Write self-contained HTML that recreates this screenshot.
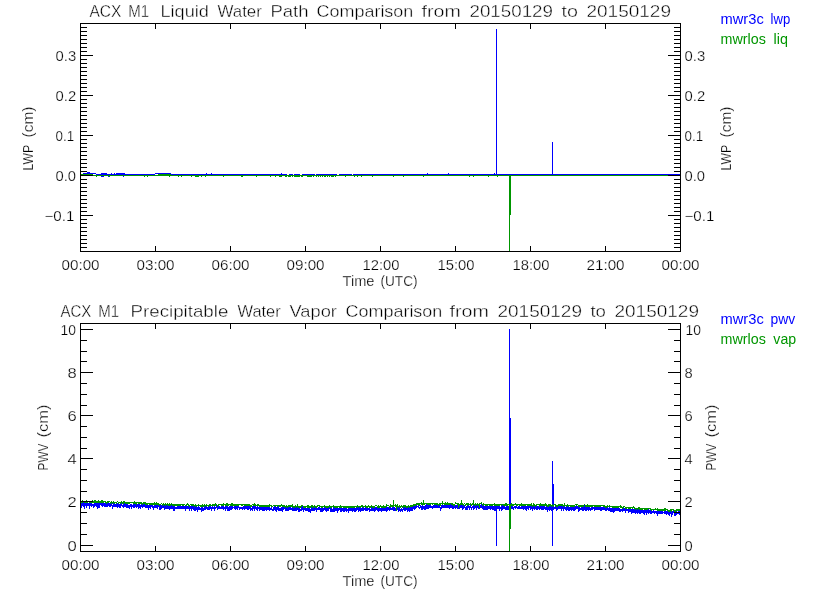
<!DOCTYPE html><html><head><meta charset="utf-8"><style>html,body{margin:0;padding:0;background:#fff;width:840px;height:600px;overflow:hidden}svg{display:block}text{font-family:"Liberation Sans",Arial,sans-serif;stroke:#fff;stroke-width:0.25px}text[fill]{stroke:none}text[font-size="17"]{stroke-width:0.4px}</style></head><body>
<svg width="840" height="600" viewBox="0 0 840 600">
<rect width="840" height="600" fill="#fff"/>
<g shape-rendering="crispEdges" fill="none" stroke-width="1">
<path d="M83.5 173V174M84.5 173V174M85.5 173V174M86.5 173V174M87.5 172V174M88.5 172V174M89.5 172V174M90.5 173V174M91.5 173V174M92.5 173V174M93.5 173V174M94.5 173V174M95.5 173V174M96.5 174V177M97.5 174V175M98.5 174V175M99.5 174V175M100.5 174V175M101.5 173V177M102.5 173V177M103.5 173V177M104.5 173V175M105.5 173V175M106.5 173V175M107.5 174V175M108.5 174V177M109.5 174V175M110.5 174V175M111.5 173V175M112.5 174V175M113.5 174V175M114.5 173V175M115.5 174V175M116.5 173V175M117.5 173V175M118.5 173V175M119.5 173V175M120.5 173V175M121.5 173V175M122.5 173V175M123.5 173V177M124.5 173V175M125.5 174V175M126.5 174V175M127.5 174V175M128.5 174V175M129.5 174V175M130.5 174V175M131.5 174V175M132.5 174V175M133.5 174V175M134.5 174V175M135.5 174V175M136.5 174V175M137.5 174V175M138.5 174V175M139.5 174V175M140.5 174V175M141.5 174V175M142.5 174V175M143.5 174V175M144.5 174V175M145.5 174V175M146.5 174V175M147.5 174V175M148.5 174V175M149.5 174V175M150.5 174V175M151.5 174V175M152.5 174V175M153.5 174V175M154.5 174V175M155.5 173V174M156.5 173V174M157.5 173V174M158.5 173V174M159.5 173V174M160.5 173V174M161.5 173V174M162.5 173V174M163.5 173V174M164.5 173V174M165.5 173V174M166.5 173V174M167.5 173V174M168.5 173V174M169.5 173V174M170.5 173V174M171.5 174V175M172.5 174V175M173.5 174V175M174.5 174V175M175.5 174V175M176.5 174V175M177.5 174V175M178.5 174V175M179.5 174V175M180.5 174V175M181.5 174V175M182.5 174V175M183.5 174V175M184.5 174V175M185.5 174V175M186.5 174V175M187.5 174V175M188.5 174V175M189.5 174V175M190.5 174V175M191.5 174V175M192.5 174V175M193.5 174V175M194.5 174V175M195.5 174V175M196.5 174V175M197.5 174V175M198.5 174V175M199.5 174V175M200.5 174V175M201.5 174V175M202.5 174V175M203.5 174V175M204.5 174V175M205.5 174V175M206.5 173V175M207.5 174V175M208.5 174V175M209.5 174V175M210.5 174V175M211.5 173V175M212.5 174V175M213.5 174V175M214.5 174V175M215.5 174V175M216.5 174V175M217.5 174V175M218.5 174V175M219.5 174V175M220.5 174V175M221.5 174V175M222.5 174V175M223.5 174V175M224.5 174V175M225.5 174V175M226.5 174V175M227.5 174V175M228.5 174V175M229.5 174V175M230.5 174V175M231.5 174V175M232.5 174V175M233.5 174V175M234.5 174V175M235.5 174V175M236.5 174V175M237.5 174V175M238.5 174V175M239.5 174V175M240.5 174V175M241.5 174V175M242.5 174V175M243.5 174V175M244.5 174V175M245.5 174V175M246.5 174V175M247.5 174V175M248.5 174V175M249.5 174V175M250.5 174V175M251.5 174V175M252.5 174V175M253.5 174V175M254.5 174V175M255.5 174V175M256.5 174V175M257.5 174V175M258.5 174V175M259.5 174V175M260.5 174V175M261.5 174V175M262.5 174V175M263.5 174V175M264.5 174V175M265.5 174V175M266.5 174V175M267.5 174V175M268.5 174V175M269.5 174V175M270.5 174V175M271.5 174V175M272.5 174V175M273.5 174V175M274.5 174V175M275.5 174V175M276.5 174V175M277.5 174V175M278.5 174V175M279.5 174V175M280.5 174V175M281.5 173V175M282.5 174V175M283.5 174V175M284.5 174V175M285.5 174V175M286.5 174V175M287.5 175V176M288.5 175V176M289.5 174V175M290.5 174V175M291.5 174V175M292.5 174V175M293.5 175V176M294.5 174V175M295.5 174V175M296.5 174V175M297.5 174V175M298.5 174V175M299.5 174V175M300.5 175V176M301.5 175V176M302.5 174V175M303.5 174V175M304.5 174V175M305.5 174V175M306.5 174V175M307.5 174V175M308.5 174V175M309.5 174V175M310.5 174V175M311.5 174V175M312.5 174V175M313.5 174V175M314.5 174V175M315.5 175V176M316.5 174V175M317.5 174V175M318.5 174V175M319.5 174V175M320.5 174V175M321.5 174V175M322.5 174V175M323.5 174V175M324.5 174V175M325.5 174V175M326.5 174V175M327.5 174V175M328.5 174V175M329.5 174V175M330.5 174V175M331.5 174V175M332.5 174V175M333.5 174V175M334.5 174V175M335.5 174V175M336.5 174V175M337.5 175V176M338.5 175V176M339.5 174V175M340.5 174V175M341.5 174V175M342.5 174V175M343.5 174V175M344.5 174V175M345.5 174V175M346.5 174V175M347.5 174V175M348.5 174V175M349.5 174V175M350.5 174V175M351.5 174V175M352.5 175V176M353.5 174V175M354.5 174V175M355.5 174V175M356.5 174V175M357.5 174V175M358.5 174V175M359.5 174V175M360.5 174V175M361.5 174V175M362.5 174V175M363.5 174V175M364.5 174V175M365.5 174V175M366.5 174V175M367.5 174V175M368.5 174V175M369.5 174V175M370.5 174V175M371.5 174V175M372.5 174V175M373.5 174V175M374.5 174V175M375.5 174V175M376.5 174V175M377.5 174V175M378.5 174V175M379.5 174V175M380.5 174V175M381.5 174V175M382.5 174V175M383.5 174V175M384.5 174V175M385.5 174V175M386.5 174V175M387.5 174V175M388.5 174V175M389.5 174V175M390.5 174V175M391.5 174V175M392.5 174V175M393.5 174V175M394.5 174V175M395.5 174V175M396.5 174V175M397.5 174V175M398.5 174V175M399.5 174V175M400.5 174V175M401.5 174V175M402.5 174V175M403.5 174V175M404.5 174V175M405.5 174V175M406.5 174V175M407.5 174V175M408.5 174V175M409.5 174V175M410.5 174V175M411.5 174V175M412.5 174V175M413.5 174V175M414.5 174V175M415.5 174V175M416.5 174V175M417.5 174V175M418.5 174V175M419.5 174V175M420.5 174V175M421.5 174V175M422.5 174V175M423.5 174V175M424.5 174V175M425.5 174V175M426.5 174V175M427.5 173V175M428.5 174V175M429.5 174V175M430.5 174V175M431.5 174V175M432.5 174V175M433.5 174V175M434.5 174V175M435.5 174V175M436.5 174V175M437.5 174V175M438.5 174V175M439.5 174V175M440.5 174V175M441.5 174V175M442.5 174V175M443.5 174V175M444.5 174V175M445.5 174V175M446.5 174V175M447.5 174V175M448.5 173V175M449.5 174V175M450.5 174V175M451.5 174V175M452.5 174V175M453.5 174V175M454.5 174V175M455.5 174V175M456.5 174V175M457.5 174V175M458.5 174V175M459.5 174V175M460.5 174V175M461.5 174V175M462.5 174V175M463.5 174V175M464.5 174V175M465.5 174V175M466.5 174V175M467.5 174V175M468.5 174V175M469.5 174V175M470.5 174V175M471.5 174V175M472.5 174V175M473.5 174V175M474.5 174V175M475.5 174V175M476.5 174V175M477.5 174V175M478.5 174V175M479.5 174V175M480.5 174V175M481.5 174V175M482.5 174V175M483.5 174V175M484.5 174V175M485.5 174V175M486.5 174V175M487.5 174V175M488.5 174V175M489.5 174V175M490.5 174V175M491.5 174V175M492.5 174V175M493.5 174V175M494.5 173V175M495.5 174V175M496.5 174V175M497.5 174V175M498.5 174V175M499.5 174V175M500.5 174V175M501.5 174V175M502.5 174V175M503.5 174V175M504.5 174V175M505.5 174V175M506.5 174V175M507.5 174V175M508.5 174V175M509.5 174V175M510.5 174V175M511.5 174V175M512.5 174V175M513.5 174V175M514.5 174V175M515.5 174V175M516.5 174V175M517.5 174V175M518.5 174V175M519.5 174V175M520.5 174V175M521.5 174V175M522.5 174V175M523.5 174V175M524.5 174V175M525.5 174V175M526.5 174V175M527.5 174V175M528.5 174V175M529.5 174V175M530.5 174V175M531.5 174V175M532.5 174V175M533.5 174V175M534.5 174V175M535.5 174V175M536.5 174V175M537.5 174V175M538.5 174V175M539.5 174V175M540.5 174V175M541.5 174V175M542.5 174V175M543.5 174V175M544.5 174V175M545.5 174V175M546.5 174V175M547.5 174V175M548.5 174V175M549.5 174V175M550.5 174V175M551.5 174V175M552.5 174V175M553.5 174V175M554.5 174V175M555.5 174V175M556.5 174V175M557.5 174V175M558.5 174V175M559.5 174V175M560.5 174V175M561.5 174V175M562.5 174V175M563.5 174V175M564.5 174V175M565.5 174V175M566.5 174V175M567.5 174V175M568.5 174V175M569.5 174V175M570.5 174V175M571.5 174V175M572.5 174V175M573.5 174V175M574.5 174V175M575.5 174V175M576.5 174V175M577.5 174V175M578.5 174V175M579.5 174V175M580.5 174V175M581.5 174V175M582.5 174V175M583.5 174V175M584.5 174V175M585.5 174V175M586.5 174V175M587.5 174V175M588.5 174V175M589.5 174V175M590.5 174V175M591.5 174V175M592.5 174V175M593.5 174V175M594.5 174V175M595.5 174V175M596.5 174V175M597.5 174V175M598.5 174V175M599.5 174V175M600.5 174V175M601.5 174V175M602.5 174V175M603.5 174V175M604.5 174V175M605.5 174V175M606.5 174V175M607.5 174V175M608.5 174V175M609.5 174V175M610.5 174V175M611.5 174V175M612.5 174V175M613.5 174V175M614.5 174V175M615.5 174V175M616.5 174V175M617.5 174V175M618.5 174V175M619.5 174V175M620.5 174V175M621.5 174V175M622.5 174V175M623.5 174V175M624.5 174V175M625.5 174V175M626.5 174V175M627.5 174V175M628.5 174V175M629.5 174V175M630.5 174V175M631.5 174V175M632.5 174V175M633.5 174V175M634.5 174V175M635.5 174V175M636.5 174V175M637.5 174V175M638.5 174V175M639.5 174V175M640.5 174V175M641.5 174V175M642.5 174V175M643.5 174V175M644.5 174V175M645.5 174V175M646.5 174V175M647.5 174V175M648.5 174V175M649.5 174V175M650.5 174V175M651.5 174V175M652.5 174V175M653.5 174V175M654.5 174V175M655.5 174V175M656.5 174V175M657.5 174V175M658.5 174V175M659.5 174V175M660.5 174V175M661.5 174V175M662.5 174V175M663.5 174V175M664.5 174V175M665.5 174V175M666.5 174V175M667.5 174V175M668.5 174V175M669.5 174V175M670.5 174V175M671.5 174V175M672.5 174V175M673.5 174V175M674.5 174V175M675.5 174V175M676.5 174V175M677.5 174V175M678.5 174V175M679.5 174V175M496.5 29V175M552.5 142V175" stroke="#0000ff"/>
<path d="M81.5 174V175M82.5 174V175M83.5 174V175M84.5 174V175M85.5 174V175M86.5 174V175M87.5 174V175M88.5 174V175M89.5 174V175M90.5 174V175M91.5 174V175M92.5 174V175M93.5 175V176M94.5 175V176M95.5 175V176M96.5 175V177M97.5 175V176M98.5 175V176M99.5 175V176M100.5 175V176M101.5 175V176M102.5 175V176M103.5 175V176M104.5 175V176M105.5 175V176M106.5 175V176M107.5 175V176M108.5 175V176M109.5 175V177M110.5 175V176M111.5 175V176M112.5 175V176M113.5 175V176M114.5 175V176M115.5 175V176M116.5 175V176M117.5 175V176M118.5 175V176M119.5 175V176M120.5 175V176M121.5 175V176M122.5 175V176M123.5 175V176M124.5 175V176M125.5 175V176M126.5 175V176M127.5 175V176M128.5 175V176M129.5 175V176M130.5 175V176M131.5 175V176M132.5 175V176M133.5 175V176M134.5 175V176M135.5 175V176M136.5 175V176M137.5 175V176M138.5 175V176M139.5 175V176M140.5 175V176M141.5 175V176M142.5 175V176M143.5 175V176M144.5 175V177M145.5 175V176M146.5 175V176M147.5 175V177M148.5 175V176M149.5 175V176M150.5 175V176M151.5 175V176M152.5 175V176M153.5 175V176M154.5 175V176M155.5 175V176M156.5 175V176M157.5 175V176M158.5 174V176M159.5 174V176M160.5 174V176M161.5 174V176M162.5 174V176M163.5 174V176M164.5 174V176M165.5 174V176M166.5 174V176M167.5 174V176M168.5 174V176M169.5 174V177M170.5 174V176M171.5 175V176M172.5 175V176M173.5 175V176M174.5 175V176M175.5 175V176M176.5 175V176M177.5 175V176M178.5 175V177M179.5 175V176M180.5 175V176M181.5 175V177M182.5 175V176M183.5 175V176M184.5 175V176M185.5 175V176M186.5 175V176M187.5 175V176M188.5 175V176M189.5 175V176M190.5 175V176M191.5 175V177M192.5 175V176M193.5 175V176M194.5 175V176M195.5 175V177M196.5 175V177M197.5 175V177M198.5 175V177M199.5 175V176M200.5 175V176M201.5 175V177M202.5 175V176M203.5 175V176M204.5 175V176M205.5 175V177M206.5 175V176M207.5 175V176M208.5 175V176M209.5 175V176M210.5 175V176M211.5 175V176M212.5 175V176M213.5 175V176M214.5 175V176M215.5 175V176M216.5 175V176M217.5 175V176M218.5 175V176M219.5 175V176M220.5 175V176M221.5 175V176M222.5 175V176M223.5 175V177M224.5 175V176M225.5 175V176M226.5 175V176M227.5 175V176M228.5 175V176M229.5 175V176M230.5 175V176M231.5 175V176M232.5 175V176M233.5 175V176M234.5 175V176M235.5 175V176M236.5 175V176M237.5 175V176M238.5 175V176M239.5 175V176M240.5 175V176M241.5 175V177M242.5 175V177M243.5 175V176M244.5 175V176M245.5 175V176M246.5 175V176M247.5 175V176M248.5 175V176M249.5 175V176M250.5 175V176M251.5 175V176M252.5 175V176M253.5 175V176M254.5 175V176M255.5 175V176M256.5 175V177M257.5 175V176M258.5 175V176M259.5 175V176M260.5 175V176M261.5 175V176M262.5 175V176M263.5 175V176M264.5 175V176M265.5 175V176M266.5 175V176M267.5 175V176M268.5 175V176M269.5 175V176M270.5 175V177M271.5 175V176M272.5 175V176M273.5 175V176M274.5 175V176M275.5 175V177M276.5 175V176M277.5 175V176M278.5 175V176M279.5 175V177M280.5 175V177M281.5 175V177M282.5 175V176M283.5 175V176M284.5 175V176M285.5 175V177M286.5 175V177M287.5 175V176M288.5 175V177M289.5 175V177M290.5 175V177M291.5 175V176M292.5 175V177M293.5 175V176M294.5 175V177M295.5 175V177M296.5 175V177M297.5 175V177M298.5 175V177M299.5 175V177M300.5 175V176M301.5 175V177M302.5 175V177M303.5 175V176M304.5 175V176M305.5 175V176M306.5 175V176M307.5 175V177M308.5 175V177M309.5 175V177M310.5 175V177M311.5 175V177M312.5 175V176M313.5 175V177M314.5 175V176M315.5 175V176M316.5 175V177M317.5 175V176M318.5 175V177M319.5 175V176M320.5 175V177M321.5 175V176M322.5 175V177M323.5 175V176M324.5 175V177M325.5 175V177M326.5 175V176M327.5 175V177M328.5 175V176M329.5 175V177M330.5 175V176M331.5 175V177M332.5 175V177M333.5 175V177M334.5 175V176M335.5 175V177M336.5 175V176M337.5 175V176M338.5 175V176M339.5 175V176M340.5 175V176M341.5 175V176M342.5 175V176M343.5 175V176M344.5 175V176M345.5 175V177M346.5 175V176M347.5 175V176M348.5 175V176M349.5 175V176M350.5 175V176M351.5 175V176M352.5 175V176M353.5 175V176M354.5 175V177M355.5 175V176M356.5 175V176M357.5 175V177M358.5 175V176M359.5 175V176M360.5 175V176M361.5 175V177M362.5 175V176M363.5 175V176M364.5 175V176M365.5 175V176M366.5 175V176M367.5 175V176M368.5 175V176M369.5 175V176M370.5 175V176M371.5 175V176M372.5 175V177M373.5 175V176M374.5 175V176M375.5 175V176M376.5 175V176M377.5 175V176M378.5 175V176M379.5 175V176M380.5 175V176M381.5 175V176M382.5 175V176M383.5 175V176M384.5 175V176M385.5 175V176M386.5 175V176M387.5 175V176M388.5 175V176M389.5 175V176M390.5 175V176M391.5 175V176M392.5 175V176M393.5 175V177M394.5 175V176M395.5 175V176M396.5 175V176M397.5 175V176M398.5 175V176M399.5 175V176M400.5 175V176M401.5 175V176M402.5 175V176M403.5 175V177M404.5 175V176M405.5 175V176M406.5 175V176M407.5 175V176M408.5 175V176M409.5 175V176M410.5 175V176M411.5 175V176M412.5 175V176M413.5 175V176M414.5 175V176M415.5 175V176M416.5 175V176M417.5 175V176M418.5 175V176M419.5 175V176M420.5 175V176M421.5 175V176M422.5 175V176M423.5 175V177M424.5 175V176M425.5 175V176M426.5 175V176M427.5 175V176M428.5 175V176M429.5 175V176M430.5 175V176M431.5 175V176M432.5 175V176M433.5 175V176M434.5 175V176M435.5 175V176M436.5 175V176M437.5 175V176M438.5 175V176M439.5 175V176M440.5 175V176M441.5 175V176M442.5 175V176M443.5 175V176M444.5 175V176M445.5 175V176M446.5 175V176M447.5 175V176M448.5 175V176M449.5 175V176M450.5 175V176M451.5 175V176M452.5 175V176M453.5 175V176M454.5 175V176M455.5 175V176M456.5 175V176M457.5 175V176M458.5 175V176M459.5 175V176M460.5 175V176M461.5 175V176M462.5 175V176M463.5 175V176M464.5 175V176M465.5 175V176M466.5 175V176M467.5 175V176M468.5 175V176M469.5 175V177M470.5 175V176M471.5 175V176M472.5 175V176M473.5 175V177M474.5 175V176M475.5 175V176M476.5 175V176M477.5 175V176M478.5 175V176M479.5 175V176M480.5 175V176M481.5 175V176M482.5 175V176M483.5 175V176M484.5 175V176M485.5 175V176M486.5 175V176M487.5 175V176M488.5 175V177M489.5 175V176M490.5 175V176M491.5 175V176M492.5 175V176M493.5 175V176M494.5 175V176M495.5 175V176M496.5 175V176M497.5 175V177M498.5 175V176M499.5 175V176M500.5 175V176M501.5 175V176M502.5 175V176M503.5 175V176M504.5 175V176M505.5 175V176M506.5 175V176M507.5 175V176M508.5 175V176M509.5 175V176M510.5 175V176M511.5 175V176M512.5 175V176M513.5 175V176M514.5 175V176M515.5 175V176M516.5 175V176M517.5 175V176M518.5 175V176M519.5 175V176M520.5 175V176M521.5 175V176M522.5 175V176M523.5 175V176M524.5 175V176M525.5 175V176M526.5 175V176M527.5 175V176M528.5 175V176M529.5 175V176M530.5 175V176M531.5 175V176M532.5 175V176M533.5 175V176M534.5 175V176M535.5 175V176M536.5 175V176M537.5 175V176M538.5 175V176M539.5 175V176M540.5 175V176M541.5 175V176M542.5 175V176M543.5 175V176M544.5 175V176M545.5 175V176M546.5 175V176M547.5 175V176M548.5 175V176M549.5 175V176M550.5 175V176M551.5 175V176M552.5 175V176M553.5 175V176M554.5 175V176M555.5 175V176M556.5 175V176M557.5 175V176M558.5 175V176M559.5 175V176M560.5 175V176M561.5 175V176M562.5 175V176M563.5 175V176M564.5 175V176M565.5 175V176M566.5 175V176M567.5 175V176M568.5 175V176M569.5 175V176M570.5 175V176M571.5 175V176M572.5 175V176M573.5 175V176M574.5 175V176M575.5 175V176M576.5 175V176M577.5 175V176M578.5 175V176M579.5 175V176M580.5 175V176M581.5 175V176M582.5 175V176M583.5 175V176M584.5 175V176M585.5 175V176M586.5 175V176M587.5 175V176M588.5 175V176M589.5 175V176M590.5 175V176M591.5 175V176M592.5 175V176M593.5 175V176M594.5 175V176M595.5 175V176M596.5 175V176M597.5 175V176M598.5 175V176M599.5 175V176M600.5 175V176M601.5 175V176M602.5 175V176M603.5 175V176M604.5 175V176M605.5 175V176M606.5 175V176M607.5 175V176M608.5 175V176M609.5 175V176M610.5 175V176M611.5 175V176M612.5 175V176M613.5 175V176M614.5 175V176M615.5 175V176M616.5 175V176M617.5 175V176M618.5 175V176M619.5 175V176M620.5 175V176M621.5 175V176M622.5 175V176M623.5 175V176M624.5 175V176M625.5 175V176M626.5 175V176M627.5 175V176M628.5 175V176M629.5 175V176M630.5 175V176M631.5 175V176M632.5 175V176M633.5 175V176M634.5 175V176M635.5 175V176M636.5 175V176M637.5 175V176M638.5 175V176M639.5 175V176M640.5 175V176M641.5 175V176M642.5 175V176M643.5 175V176M644.5 175V176M645.5 175V176M646.5 175V176M647.5 175V176M648.5 175V176M649.5 175V176M650.5 175V176M651.5 175V176M652.5 175V176M653.5 175V176M654.5 175V176M655.5 175V176M656.5 175V176M657.5 175V176M658.5 175V176M659.5 175V176M660.5 175V176M661.5 175V176M662.5 175V176M663.5 175V176M664.5 175V176M665.5 175V176M666.5 175V176M667.5 175V176M668.5 175V176M669.5 175V176M670.5 175V176M671.5 175V176M672.5 175V176M673.5 175V176M674.5 175V176M675.5 175V176M676.5 175V176M677.5 175V176M678.5 175V176M679.5 175V176M509.5 175V252M510.5 175V215" stroke="#009600"/>
</g>
<g shape-rendering="crispEdges" fill="none" stroke-width="1">
<path d="M81.5 503V508M82.5 503V506M83.5 502V507M84.5 503V509M85.5 503V506M86.5 503V508M87.5 503V506M88.5 503V506M89.5 503V509M90.5 503V506M91.5 503V507M92.5 504V506M93.5 504V508M94.5 503V507M95.5 503V506M96.5 502V507M97.5 502V509M98.5 503V508M99.5 503V508M100.5 503V505M101.5 503V506M102.5 503V507M103.5 503V506M104.5 503V507M105.5 503V507M106.5 504V507M107.5 503V507M108.5 503V506M109.5 503V507M110.5 504V507M111.5 503V506M112.5 505V509M113.5 503V507M114.5 503V507M115.5 504V507M116.5 504V507M117.5 503V508M118.5 504V507M119.5 504V508M120.5 504V508M121.5 503V506M122.5 505V507M123.5 504V508M124.5 503V507M125.5 503V507M126.5 504V508M127.5 504V508M128.5 505V508M129.5 505V509M130.5 504V507M131.5 504V509M132.5 505V507M133.5 504V508M134.5 504V508M135.5 504V507M136.5 505V508M137.5 504V507M138.5 504V509M139.5 504V508M140.5 505V509M141.5 503V507M142.5 505V508M143.5 504V507M144.5 503V507M145.5 505V508M146.5 505V508M147.5 505V508M148.5 505V510M149.5 505V508M150.5 505V509M151.5 504V507M152.5 505V508M153.5 506V510M154.5 505V508M155.5 505V508M156.5 505V508M157.5 505V509M158.5 505V507M159.5 506V510M160.5 505V510M161.5 505V509M162.5 506V508M163.5 505V508M164.5 506V510M165.5 505V509M166.5 506V509M167.5 505V509M168.5 506V509M169.5 506V510M170.5 506V509M171.5 505V509M172.5 506V509M173.5 506V511M174.5 505V511M175.5 507V509M176.5 507V509M177.5 506V509M178.5 506V509M179.5 506V509M180.5 505V509M181.5 506V509M182.5 506V509M183.5 505V509M184.5 506V509M185.5 506V511M186.5 506V509M187.5 506V509M188.5 506V509M189.5 507V511M190.5 506V509M191.5 506V511M192.5 506V509M193.5 506V510M194.5 507V511M195.5 506V511M196.5 506V510M197.5 507V512M198.5 506V510M199.5 507V510M200.5 508V510M201.5 507V512M202.5 507V511M203.5 508V511M204.5 506V510M205.5 507V510M206.5 506V509M207.5 507V510M208.5 507V510M209.5 506V510M210.5 506V509M211.5 507V511M212.5 505V509M213.5 507V509M214.5 506V511M215.5 507V509M216.5 505V508M217.5 507V510M218.5 506V509M219.5 506V509M220.5 507V509M221.5 506V509M222.5 506V509M223.5 505V510M224.5 507V509M225.5 506V511M226.5 506V509M227.5 506V511M228.5 507V511M229.5 506V511M230.5 505V510M231.5 506V510M232.5 506V509M233.5 507V508M234.5 506V509M235.5 506V510M236.5 506V509M237.5 506V510M238.5 506V508M239.5 507V510M240.5 507V509M241.5 507V509M242.5 507V510M243.5 506V509M244.5 506V510M245.5 506V509M246.5 506V509M247.5 506V510M248.5 506V510M249.5 506V509M250.5 507V511M251.5 508V510M252.5 506V511M253.5 505V509M254.5 506V511M255.5 506V509M256.5 507V510M257.5 506V511M258.5 507V509M259.5 507V511M260.5 506V510M261.5 507V510M262.5 507V511M263.5 507V511M264.5 507V511M265.5 507V510M266.5 506V511M267.5 507V510M268.5 507V510M269.5 506V511M270.5 508V510M271.5 506V510M272.5 509V511M273.5 507V511M274.5 506V510M275.5 507V511M276.5 507V512M277.5 506V510M278.5 506V511M279.5 508V511M280.5 508V511M281.5 507V511M282.5 507V512M283.5 507V510M284.5 507V509M285.5 508V511M286.5 507V511M287.5 508V511M288.5 507V511M289.5 507V510M290.5 507V510M291.5 508V510M292.5 507V511M293.5 508V511M294.5 507V511M295.5 506V511M296.5 508V511M297.5 507V510M298.5 508V512M299.5 508V512M300.5 509V511M301.5 507V511M302.5 506V510M303.5 508V512M304.5 508V510M305.5 508V511M306.5 508V511M307.5 508V511M308.5 508V512M309.5 507V512M310.5 509V513M311.5 507V511M312.5 508V511M313.5 508V511M314.5 507V511M315.5 508V510M316.5 508V512M317.5 508V510M318.5 507V510M319.5 507V510M320.5 508V512M321.5 508V512M322.5 508V512M323.5 508V511M324.5 506V510M325.5 508V511M326.5 508V512M327.5 508V511M328.5 508V511M329.5 507V509M330.5 508V512M331.5 508V512M332.5 509V512M333.5 507V512M334.5 508V512M335.5 508V511M336.5 508V511M337.5 508V513M338.5 508V511M339.5 508V510M340.5 508V512M341.5 508V512M342.5 508V511M343.5 508V512M344.5 508V512M345.5 508V511M346.5 508V512M347.5 509V511M348.5 508V513M349.5 508V511M350.5 508V511M351.5 508V511M352.5 508V512M353.5 508V511M354.5 507V512M355.5 508V512M356.5 508V511M357.5 507V510M358.5 508V512M359.5 507V511M360.5 508V512M361.5 508V511M362.5 507V511M363.5 507V511M364.5 508V510M365.5 507V511M366.5 508V511M367.5 508V511M368.5 508V510M369.5 508V512M370.5 509V511M371.5 507V511M372.5 508V511M373.5 508V511M374.5 508V512M375.5 507V511M376.5 507V510M377.5 507V511M378.5 508V512M379.5 508V511M380.5 508V511M381.5 508V512M382.5 508V511M383.5 508V511M384.5 508V511M385.5 508V511M386.5 507V512M387.5 507V511M388.5 507V510M389.5 508V511M390.5 507V510M391.5 508V510M392.5 507V510M393.5 506V511M394.5 507V511M395.5 508V511M396.5 507V511M397.5 506V510M398.5 508V512M399.5 507V511M400.5 509V512M401.5 508V511M402.5 509V512M403.5 506V510M404.5 507V511M405.5 507V511M406.5 507V510M407.5 507V512M408.5 507V511M409.5 508V512M410.5 507V511M411.5 506V511M412.5 506V511M413.5 506V509M414.5 506V510M415.5 506V509M416.5 505V508M417.5 506V507M418.5 504V508M419.5 507V509M420.5 505V508M421.5 506V510M422.5 505V510M423.5 506V509M424.5 506V510M425.5 505V510M426.5 504V509M427.5 505V509M428.5 505V509M429.5 505V508M430.5 505V508M431.5 506V508M432.5 506V509M433.5 505V508M434.5 505V508M435.5 505V508M436.5 505V508M437.5 505V508M438.5 506V508M439.5 505V508M440.5 507V511M441.5 505V509M442.5 504V508M443.5 505V508M444.5 505V508M445.5 505V508M446.5 505V508M447.5 505V508M448.5 505V508M449.5 505V509M450.5 504V508M451.5 505V508M452.5 505V509M453.5 505V509M454.5 506V508M455.5 505V509M456.5 505V508M457.5 505V509M458.5 505V509M459.5 506V509M460.5 505V508M461.5 504V508M462.5 504V510M463.5 506V509M464.5 505V508M465.5 507V510M466.5 506V510M467.5 506V510M468.5 505V508M469.5 506V510M470.5 505V508M471.5 507V510M472.5 506V508M473.5 505V510M474.5 506V509M475.5 505V508M476.5 505V510M477.5 505V508M478.5 506V509M479.5 506V509M480.5 505V508M481.5 504V508M482.5 506V509M483.5 505V510M484.5 506V510M485.5 506V510M486.5 505V510M487.5 506V510M488.5 506V509M489.5 506V509M490.5 506V510M491.5 505V509M492.5 506V510M493.5 506V510M494.5 506V511M495.5 506V511M496.5 506V510M497.5 506V509M498.5 506V509M499.5 505V511M500.5 507V509M501.5 506V511M502.5 505V510M503.5 506V509M504.5 506V509M505.5 507V510M506.5 506V510M507.5 506V510M508.5 506V510M509.5 506V509M510.5 506V509M511.5 505V509M512.5 506V509M513.5 507V510M514.5 506V508M515.5 506V509M516.5 506V508M517.5 507V509M518.5 506V509M519.5 505V509M520.5 507V509M521.5 506V509M522.5 506V509M523.5 506V510M524.5 506V509M525.5 505V510M526.5 506V511M527.5 506V509M528.5 505V510M529.5 506V508M530.5 506V510M531.5 506V509M532.5 507V511M533.5 506V509M534.5 506V510M535.5 506V509M536.5 506V510M537.5 506V510M538.5 506V509M539.5 507V510M540.5 506V509M541.5 506V510M542.5 506V510M543.5 506V510M544.5 506V509M545.5 507V510M546.5 506V510M547.5 507V512M548.5 507V510M549.5 506V511M550.5 506V510M551.5 507V511M552.5 506V509M553.5 507V510M554.5 507V509M555.5 506V509M556.5 507V511M557.5 506V510M558.5 506V509M559.5 506V509M560.5 506V509M561.5 506V511M562.5 506V509M563.5 507V511M564.5 506V509M565.5 507V510M566.5 507V511M567.5 506V510M568.5 507V511M569.5 507V511M570.5 507V510M571.5 507V511M572.5 507V510M573.5 507V511M574.5 507V511M575.5 506V510M576.5 506V509M577.5 506V509M578.5 506V512M579.5 507V511M580.5 508V510M581.5 506V510M582.5 507V511M583.5 507V511M584.5 505V510M585.5 507V511M586.5 507V511M587.5 507V510M588.5 507V511M589.5 507V510M590.5 508V511M591.5 507V510M592.5 507V510M593.5 507V509M594.5 507V511M595.5 506V510M596.5 507V510M597.5 506V510M598.5 507V510M599.5 507V510M600.5 507V511M601.5 507V511M602.5 507V510M603.5 507V510M604.5 507V510M605.5 508V511M606.5 508V511M607.5 507V510M608.5 508V511M609.5 507V511M610.5 508V512M611.5 508V512M612.5 508V512M613.5 507V513M614.5 508V512M615.5 508V511M616.5 508V511M617.5 508V511M618.5 508V511M619.5 508V512M620.5 509V512M621.5 509V511M622.5 509V512M623.5 508V511M624.5 508V511M625.5 509V513M626.5 508V511M627.5 509V511M628.5 509V513M629.5 509V512M630.5 509V512M631.5 509V514M632.5 509V513M633.5 509V513M634.5 509V513M635.5 510V514M636.5 509V513M637.5 510V514M638.5 509V513M639.5 510V514M640.5 510V514M641.5 510V513M642.5 510V513M643.5 510V514M644.5 510V515M645.5 510V513M646.5 510V515M647.5 510V513M648.5 509V514M649.5 510V513M650.5 509V514M651.5 510V514M652.5 511V513M653.5 510V513M654.5 511V514M655.5 511V513M656.5 511V514M657.5 510V516M658.5 511V514M659.5 511V514M660.5 511V514M661.5 511V514M662.5 511V514M663.5 512V513M664.5 511V514M665.5 511V514M666.5 511V515M667.5 511V514M668.5 512V515M669.5 512V516M670.5 511V514M671.5 511V517M672.5 511V515M673.5 511V513M674.5 512V516M675.5 512V516M676.5 511V515M677.5 512V514M678.5 511V514M679.5 511V515M496.5 505V546M509.5 329V507M510.5 418V507M552.5 461V546M553.5 484V507" stroke="#0000ff"/>
<path d="M81.5 501V503M82.5 500V503M83.5 501V502M84.5 501V503M85.5 501V503M86.5 500V503M87.5 501V503M88.5 501V502M89.5 501V503M90.5 501V503M91.5 501V503M92.5 500V503M93.5 501V503M94.5 500V503M95.5 500V503M96.5 501V503M97.5 501V503M98.5 500V503M99.5 501V503M100.5 501V503M101.5 500V503M102.5 500V503M103.5 501V503M104.5 501V502M105.5 501V503M106.5 502V504M107.5 501V503M108.5 501V503M109.5 501V502M110.5 502V504M111.5 501V503M112.5 502V504M113.5 501V503M114.5 502V504M115.5 502V503M116.5 502V504M117.5 501V502M118.5 502V504M119.5 502V503M120.5 502V504M121.5 501V503M122.5 502V504M123.5 501V504M124.5 501V503M125.5 502V504M126.5 502V504M127.5 502V504M128.5 502V504M129.5 502V504M130.5 502V503M131.5 502V503M132.5 502V503M133.5 502V504M134.5 501V504M135.5 502V504M136.5 502V505M137.5 502V503M138.5 502V504M139.5 502V504M140.5 502V504M141.5 502V504M142.5 503V505M143.5 502V504M144.5 502V504M145.5 502V505M146.5 503V505M147.5 503V505M148.5 503V504M149.5 503V505M150.5 503V505M151.5 503V505M152.5 503V505M153.5 503V505M154.5 502V505M155.5 503V505M156.5 502V505M157.5 503V505M158.5 503V505M159.5 504V506M160.5 504V505M161.5 503V504M162.5 504V506M163.5 503V505M164.5 504V506M165.5 503V505M166.5 504V506M167.5 503V505M168.5 504V506M169.5 503V506M170.5 504V506M171.5 503V505M172.5 504V506M173.5 504V506M174.5 504V506M175.5 504V506M176.5 504V506M177.5 504V506M178.5 504V506M179.5 504V506M180.5 504V506M181.5 504V505M182.5 504V506M183.5 504V506M184.5 504V505M185.5 505V506M186.5 504V506M187.5 503V505M188.5 504V506M189.5 505V507M190.5 504V505M191.5 504V506M192.5 504V506M193.5 504V506M194.5 505V507M195.5 504V506M196.5 505V507M197.5 505V506M198.5 504V506M199.5 505V506M200.5 505V507M201.5 505V507M202.5 504V507M203.5 505V507M204.5 504V506M205.5 505V507M206.5 504V506M207.5 505V506M208.5 505V507M209.5 504V506M210.5 504V506M211.5 505V506M212.5 504V506M213.5 504V506M214.5 504V506M215.5 503V506M216.5 504V505M217.5 505V507M218.5 504V506M219.5 504V505M220.5 504V505M221.5 504V506M222.5 504V506M223.5 503V506M224.5 504V505M225.5 504V506M226.5 503V506M227.5 503V506M228.5 504V506M229.5 504V505M230.5 504V506M231.5 503V506M232.5 503V506M233.5 504V506M234.5 504V506M235.5 504V506M236.5 504V506M237.5 504V506M238.5 504V506M239.5 504V505M240.5 504V505M241.5 504V506M242.5 504V506M243.5 504V505M244.5 504V506M245.5 504V506M246.5 504V506M247.5 504V506M248.5 504V506M249.5 504V506M250.5 505V507M251.5 505V507M252.5 504V505M253.5 504V506M254.5 503V506M255.5 504V506M256.5 505V506M257.5 504V506M258.5 504V506M259.5 505V507M260.5 505V507M261.5 505V507M262.5 505V507M263.5 505V507M264.5 505V507M265.5 505V507M266.5 505V507M267.5 505V507M268.5 505V507M269.5 504V507M270.5 505V506M271.5 505V507M272.5 506V507M273.5 505V506M274.5 505V506M275.5 505V507M276.5 505V506M277.5 505V507M278.5 505V506M279.5 505V507M280.5 505V507M281.5 504V506M282.5 505V507M283.5 505V507M284.5 505V507M285.5 506V508M286.5 505V507M287.5 506V508M288.5 505V507M289.5 505V507M290.5 505V507M291.5 505V507M292.5 504V507M293.5 506V508M294.5 506V508M295.5 505V507M296.5 506V508M297.5 504V507M298.5 506V508M299.5 506V508M300.5 506V508M301.5 505V507M302.5 505V506M303.5 506V508M304.5 506V508M305.5 506V508M306.5 506V507M307.5 505V508M308.5 505V508M309.5 506V508M310.5 506V508M311.5 505V507M312.5 505V508M313.5 506V508M314.5 505V507M315.5 506V508M316.5 506V508M317.5 505V507M318.5 505V506M319.5 505V507M320.5 506V507M321.5 506V508M322.5 506V508M323.5 506V507M324.5 505V507M325.5 506V508M326.5 506V508M327.5 506V508M328.5 506V508M329.5 505V507M330.5 506V508M331.5 506V508M332.5 506V507M333.5 505V507M334.5 506V508M335.5 506V508M336.5 506V508M337.5 506V508M338.5 506V507M339.5 506V508M340.5 505V508M341.5 506V508M342.5 506V507M343.5 506V508M344.5 506V508M345.5 506V508M346.5 506V508M347.5 506V508M348.5 506V508M349.5 506V508M350.5 506V508M351.5 506V508M352.5 506V508M353.5 506V508M354.5 506V508M355.5 506V507M356.5 506V508M357.5 505V507M358.5 506V508M359.5 506V507M360.5 506V508M361.5 505V507M362.5 505V507M363.5 506V508M364.5 506V507M365.5 505V507M366.5 506V508M367.5 506V508M368.5 505V507M369.5 506V508M370.5 506V508M371.5 505V507M372.5 506V508M373.5 506V508M374.5 506V508M375.5 505V506M376.5 505V506M377.5 506V508M378.5 505V508M379.5 506V508M380.5 505V507M381.5 506V508M382.5 506V508M383.5 505V508M384.5 506V508M385.5 506V508M386.5 504V507M387.5 505V506M388.5 505V506M389.5 506V508M390.5 504V507M391.5 505V507M392.5 505V507M393.5 505V507M394.5 505V506M395.5 504V507M396.5 506V508M397.5 504V507M398.5 506V508M399.5 505V507M400.5 506V508M401.5 505V507M402.5 506V508M403.5 505V507M404.5 505V508M405.5 505V507M406.5 506V508M407.5 506V508M408.5 505V507M409.5 506V508M410.5 505V507M411.5 505V507M412.5 505V507M413.5 504V506M414.5 504V506M415.5 504V506M416.5 503V505M417.5 503V505M418.5 503V505M419.5 503V506M420.5 503V504M421.5 502V505M422.5 503V505M423.5 503V505M424.5 503V505M425.5 503V504M426.5 503V504M427.5 503V505M428.5 503V505M429.5 503V505M430.5 503V505M431.5 503V504M432.5 503V505M433.5 503V504M434.5 503V505M435.5 503V505M436.5 503V505M437.5 503V505M438.5 504V506M439.5 503V505M440.5 503V506M441.5 503V504M442.5 503V505M443.5 503V504M444.5 503V505M445.5 502V505M446.5 503V505M447.5 502V505M448.5 503V505M449.5 503V505M450.5 503V504M451.5 503V505M452.5 503V505M453.5 504V506M454.5 504V506M455.5 502V504M456.5 503V504M457.5 503V505M458.5 503V505M459.5 504V506M460.5 503V505M461.5 503V505M462.5 503V505M463.5 504V506M464.5 503V504M465.5 504V506M466.5 503V505M467.5 503V506M468.5 503V505M469.5 504V505M470.5 503V505M471.5 504V506M472.5 503V505M473.5 503V505M474.5 504V506M475.5 503V505M476.5 504V506M477.5 503V505M478.5 504V506M479.5 504V505M480.5 503V504M481.5 502V504M482.5 504V506M483.5 503V505M484.5 504V505M485.5 504V506M486.5 504V506M487.5 504V506M488.5 504V505M489.5 504V506M490.5 504V506M491.5 504V506M492.5 504V506M493.5 504V505M494.5 503V506M495.5 504V506M496.5 504V506M497.5 504V506M498.5 504V506M499.5 504V506M500.5 504V505M501.5 504V506M502.5 504V505M503.5 504V506M504.5 504V506M505.5 503V506M506.5 503V506M507.5 504V506M508.5 504V505M509.5 504V506M510.5 504V505M511.5 503V506M512.5 504V506M513.5 504V506M514.5 504V505M515.5 503V505M516.5 504V506M517.5 504V506M518.5 504V505M519.5 504V506M520.5 504V506M521.5 503V506M522.5 504V506M523.5 504V506M524.5 504V506M525.5 504V506M526.5 504V505M527.5 504V506M528.5 504V506M529.5 504V506M530.5 504V506M531.5 503V506M532.5 505V507M533.5 503V506M534.5 504V506M535.5 505V507M536.5 504V506M537.5 504V505M538.5 504V505M539.5 504V507M540.5 503V506M541.5 504V506M542.5 504V506M543.5 504V506M544.5 504V506M545.5 503V506M546.5 504V506M547.5 505V507M548.5 504V507M549.5 504V506M550.5 504V506M551.5 505V507M552.5 504V506M553.5 505V507M554.5 504V505M555.5 504V506M556.5 505V507M557.5 505V507M558.5 504V506M559.5 504V506M560.5 504V506M561.5 504V506M562.5 504V506M563.5 505V507M564.5 503V506M565.5 505V506M566.5 505V507M567.5 504V506M568.5 505V507M569.5 505V506M570.5 505V507M571.5 505V507M572.5 505V507M573.5 505V507M574.5 505V507M575.5 504V505M576.5 504V506M577.5 504V505M578.5 505V507M579.5 505V507M580.5 505V507M581.5 505V507M582.5 505V507M583.5 505V507M584.5 504V505M585.5 505V507M586.5 505V507M587.5 504V507M588.5 505V507M589.5 505V507M590.5 505V507M591.5 505V507M592.5 505V507M593.5 505V506M594.5 505V507M595.5 505V507M596.5 505V507M597.5 505V507M598.5 505V507M599.5 505V507M600.5 505V507M601.5 505V506M602.5 505V506M603.5 505V507M604.5 505V507M605.5 506V508M606.5 506V508M607.5 505V507M608.5 506V507M609.5 505V507M610.5 506V507M611.5 506V507M612.5 506V508M613.5 506V508M614.5 506V508M615.5 506V508M616.5 506V508M617.5 506V508M618.5 506V508M619.5 506V507M620.5 505V508M621.5 506V508M622.5 507V509M623.5 506V508M624.5 506V507M625.5 507V509M626.5 507V509M627.5 507V508M628.5 507V509M629.5 507V509M630.5 507V509M631.5 507V508M632.5 507V509M633.5 506V508M634.5 507V509M635.5 508V510M636.5 508V509M637.5 508V510M638.5 507V509M639.5 507V510M640.5 508V510M641.5 508V510M642.5 508V510M643.5 508V509M644.5 508V510M645.5 508V510M646.5 508V510M647.5 508V510M648.5 508V509M649.5 508V509M650.5 508V510M651.5 509V511M652.5 509V510M653.5 509V510M654.5 509V510M655.5 508V510M656.5 509V510M657.5 508V511M658.5 509V511M659.5 509V511M660.5 509V511M661.5 509V511M662.5 509V511M663.5 509V511M664.5 508V511M665.5 508V511M666.5 509V510M667.5 509V511M668.5 510V512M669.5 510V512M670.5 509V511M671.5 509V512M672.5 509V510M673.5 509V511M674.5 510V512M675.5 510V512M676.5 509V511M677.5 509V511M678.5 509V511M679.5 509V511M509.5 504V552M510.5 504V529M393.5 500V506M396.5 505V511M423.5 500V504M442.5 501V504M461.5 500V504M473.5 500V504M458.5 503V508M479.5 503V508" stroke="#009600"/>
</g>
<path d="M80 23.5H681M80 251.5H681M80.5 23V252M680.5 23V252M155.5 246V251M155.5 24V29M230.5 246V251M230.5 24V29M305.5 246V251M305.5 24V29M380.5 246V251M380.5 24V29M455.5 246V251M455.5 24V29M530.5 246V251M530.5 24V29M605.5 246V251M605.5 24V29M81 55.5H93M668 55.5H680M81 95.5H93M668 95.5H680M81 135.5H93M668 135.5H680M81 175.5H93M668 175.5H680M81 215.5H93M668 215.5H680M81 27.5H87M674 27.5H680M81 31.5H87M674 31.5H680M81 35.5H87M674 35.5H680M81 39.5H87M674 39.5H680M81 43.5H87M674 43.5H680M81 47.5H87M674 47.5H680M81 51.5H87M674 51.5H680M81 59.5H87M674 59.5H680M81 63.5H87M674 63.5H680M81 67.5H87M674 67.5H680M81 71.5H87M674 71.5H680M81 75.5H87M674 75.5H680M81 79.5H87M674 79.5H680M81 83.5H87M674 83.5H680M81 87.5H87M674 87.5H680M81 91.5H87M674 91.5H680M81 99.5H87M674 99.5H680M81 103.5H87M674 103.5H680M81 107.5H87M674 107.5H680M81 111.5H87M674 111.5H680M81 115.5H87M674 115.5H680M81 119.5H87M674 119.5H680M81 123.5H87M674 123.5H680M81 127.5H87M674 127.5H680M81 131.5H87M674 131.5H680M81 139.5H87M674 139.5H680M81 143.5H87M674 143.5H680M81 147.5H87M674 147.5H680M81 151.5H87M674 151.5H680M81 155.5H87M674 155.5H680M81 159.5H87M674 159.5H680M81 163.5H87M674 163.5H680M81 167.5H87M674 167.5H680M81 171.5H87M674 171.5H680M81 179.5H87M674 179.5H680M81 183.5H87M674 183.5H680M81 187.5H87M674 187.5H680M81 191.5H87M674 191.5H680M81 195.5H87M674 195.5H680M81 199.5H87M674 199.5H680M81 203.5H87M674 203.5H680M81 207.5H87M674 207.5H680M81 211.5H87M674 211.5H680M81 219.5H87M674 219.5H680M81 223.5H87M674 223.5H680M81 227.5H87M674 227.5H680M81 231.5H87M674 231.5H680M81 235.5H87M674 235.5H680M81 239.5H87M674 239.5H680M81 243.5H87M674 243.5H680M81 247.5H87M674 247.5H680" stroke="#000" stroke-width="1" fill="none" shape-rendering="crispEdges"/>
<path d="M80 323.5H681M80 551.5H681M80.5 323V552M680.5 323V552M155.5 546V551M155.5 324V329M230.5 546V551M230.5 324V329M305.5 546V551M305.5 324V329M380.5 546V551M380.5 324V329M455.5 546V551M455.5 324V329M530.5 546V551M530.5 324V329M605.5 546V551M605.5 324V329M81 329.5H93M668 329.5H680M81 372.5H93M668 372.5H680M81 415.5H93M668 415.5H680M81 458.5H93M668 458.5H680M81 501.5H93M668 501.5H680M81 545.5H93M668 545.5H680M81 534.5H87M674 534.5H680M81 523.5H87M674 523.5H680M81 512.5H87M674 512.5H680M81 491.5H87M674 491.5H680M81 480.5H87M674 480.5H680M81 469.5H87M674 469.5H680M81 448.5H87M674 448.5H680M81 437.5H87M674 437.5H680M81 426.5H87M674 426.5H680M81 405.5H87M674 405.5H680M81 394.5H87M674 394.5H680M81 383.5H87M674 383.5H680M81 361.5H87M674 361.5H680M81 351.5H87M674 351.5H680M81 340.5H87M674 340.5H680" stroke="#000" stroke-width="1" fill="none" shape-rendering="crispEdges"/>
<text x="89.42" y="17" font-size="17" textLength="32.00" lengthAdjust="spacingAndGlyphs">ACX</text>
<text x="128.33" y="17" font-size="17" textLength="20.86" lengthAdjust="spacingAndGlyphs">M1</text>
<text x="160.50" y="17" font-size="17" textLength="48.38" lengthAdjust="spacingAndGlyphs">Liquid</text>
<text x="217.46" y="17" font-size="17" textLength="44.37" lengthAdjust="spacingAndGlyphs">Water</text>
<text x="270.45" y="17" font-size="17" textLength="38.17" lengthAdjust="spacingAndGlyphs">Path</text>
<text x="316.51" y="17" font-size="17" textLength="96.84" lengthAdjust="spacingAndGlyphs">Comparison</text>
<text x="421.46" y="17" font-size="17" textLength="39.30" lengthAdjust="spacingAndGlyphs">from</text>
<text x="469.51" y="17" font-size="17" textLength="83.43" lengthAdjust="spacingAndGlyphs">20150129</text>
<text x="561.50" y="17" font-size="17" textLength="16.45" lengthAdjust="spacingAndGlyphs">to</text>
<text x="586.51" y="17" font-size="17" textLength="84.45" lengthAdjust="spacingAndGlyphs">20150129</text>
<text x="60.42" y="317" font-size="17" textLength="30.97" lengthAdjust="spacingAndGlyphs">ACX</text>
<text x="98.33" y="317" font-size="17" textLength="20.86" lengthAdjust="spacingAndGlyphs">M1</text>
<text x="130.53" y="317" font-size="17" textLength="97.84" lengthAdjust="spacingAndGlyphs">Precipitable</text>
<text x="237.45" y="317" font-size="17" textLength="43.34" lengthAdjust="spacingAndGlyphs">Water</text>
<text x="289.52" y="317" font-size="17" textLength="47.39" lengthAdjust="spacingAndGlyphs">Vapor</text>
<text x="345.51" y="317" font-size="17" textLength="96.84" lengthAdjust="spacingAndGlyphs">Comparison</text>
<text x="449.46" y="317" font-size="17" textLength="39.30" lengthAdjust="spacingAndGlyphs">from</text>
<text x="497.51" y="317" font-size="17" textLength="84.45" lengthAdjust="spacingAndGlyphs">20150129</text>
<text x="590.43" y="317" font-size="17" textLength="15.50" lengthAdjust="spacingAndGlyphs">to</text>
<text x="614.51" y="317" font-size="17" textLength="84.45" lengthAdjust="spacingAndGlyphs">20150129</text>
<text x="720.51" y="24" font-size="14" fill="#0000ff" textLength="43.23" lengthAdjust="spacingAndGlyphs">mwr3c</text>
<text x="770.52" y="24" font-size="14" fill="#0000ff" textLength="19.65" lengthAdjust="spacingAndGlyphs">lwp</text>
<text x="720.52" y="44" font-size="14" fill="#009600" textLength="45.34" lengthAdjust="spacingAndGlyphs">mwrlos</text>
<text x="773.50" y="44" font-size="14" fill="#009600" textLength="14.39" lengthAdjust="spacingAndGlyphs">liq</text>
<text x="720.51" y="324" font-size="14" fill="#0000ff" textLength="43.23" lengthAdjust="spacingAndGlyphs">mwr3c</text>
<text x="770.52" y="324" font-size="14" fill="#0000ff" textLength="24.69" lengthAdjust="spacingAndGlyphs">pwv</text>
<text x="720.52" y="344" font-size="14" fill="#009600" textLength="45.34" lengthAdjust="spacingAndGlyphs">mwrlos</text>
<text x="773.37" y="344" font-size="14" fill="#009600" textLength="22.80" lengthAdjust="spacingAndGlyphs">vap</text>
<text x="61.51" y="270" font-size="14" textLength="38.08" lengthAdjust="spacingAndGlyphs">00:00</text>
<text x="136.51" y="270" font-size="14" textLength="38.08" lengthAdjust="spacingAndGlyphs">03:00</text>
<text x="211.51" y="270" font-size="14" textLength="38.08" lengthAdjust="spacingAndGlyphs">06:00</text>
<text x="286.51" y="270" font-size="14" textLength="38.08" lengthAdjust="spacingAndGlyphs">09:00</text>
<text x="362.50" y="270" font-size="14" textLength="37.08" lengthAdjust="spacingAndGlyphs">12:00</text>
<text x="437.50" y="270" font-size="14" textLength="37.08" lengthAdjust="spacingAndGlyphs">15:00</text>
<text x="512.50" y="270" font-size="14" textLength="37.08" lengthAdjust="spacingAndGlyphs">18:00</text>
<text x="586.51" y="270" font-size="14" textLength="38.08" lengthAdjust="spacingAndGlyphs">21:00</text>
<text x="661.51" y="270" font-size="14" textLength="38.08" lengthAdjust="spacingAndGlyphs">00:00</text>
<text x="342.52" y="286" font-size="14" textLength="31.90" lengthAdjust="spacingAndGlyphs">Time</text>
<text x="380.51" y="286" font-size="14" textLength="37.05" lengthAdjust="spacingAndGlyphs">(UTC)</text>
<text x="61.51" y="570" font-size="14" textLength="38.08" lengthAdjust="spacingAndGlyphs">00:00</text>
<text x="136.51" y="570" font-size="14" textLength="38.08" lengthAdjust="spacingAndGlyphs">03:00</text>
<text x="211.51" y="570" font-size="14" textLength="38.08" lengthAdjust="spacingAndGlyphs">06:00</text>
<text x="286.51" y="570" font-size="14" textLength="38.08" lengthAdjust="spacingAndGlyphs">09:00</text>
<text x="362.50" y="570" font-size="14" textLength="37.08" lengthAdjust="spacingAndGlyphs">12:00</text>
<text x="437.50" y="570" font-size="14" textLength="37.08" lengthAdjust="spacingAndGlyphs">15:00</text>
<text x="512.50" y="570" font-size="14" textLength="37.08" lengthAdjust="spacingAndGlyphs">18:00</text>
<text x="586.51" y="570" font-size="14" textLength="38.08" lengthAdjust="spacingAndGlyphs">21:00</text>
<text x="661.51" y="570" font-size="14" textLength="38.08" lengthAdjust="spacingAndGlyphs">00:00</text>
<text x="342.52" y="586" font-size="14" textLength="31.90" lengthAdjust="spacingAndGlyphs">Time</text>
<text x="380.51" y="586" font-size="14" textLength="37.05" lengthAdjust="spacingAndGlyphs">(UTC)</text>
<text x="33" y="170.44" font-size="14" textLength="25.72" lengthAdjust="spacingAndGlyphs" transform="rotate(-90 33 170.44)">LWP</text>
<text x="33" y="137.49" font-size="14" textLength="30.94" lengthAdjust="spacingAndGlyphs" transform="rotate(-90 33 137.49)">(cm)</text>
<text x="731" y="170.44" font-size="14" textLength="25.72" lengthAdjust="spacingAndGlyphs" transform="rotate(-90 731 170.44)">LWP</text>
<text x="731" y="137.49" font-size="14" textLength="30.94" lengthAdjust="spacingAndGlyphs" transform="rotate(-90 731 137.49)">(cm)</text>
<text x="48" y="470.44" font-size="14" textLength="26.75" lengthAdjust="spacingAndGlyphs" transform="rotate(-90 48 470.44)">PWV</text>
<text x="48" y="437.57" font-size="14" textLength="33.03" lengthAdjust="spacingAndGlyphs" transform="rotate(-90 48 437.57)">(cm)</text>
<text x="716" y="470.44" font-size="14" textLength="26.75" lengthAdjust="spacingAndGlyphs" transform="rotate(-90 716 470.44)">PWV</text>
<text x="716" y="437.57" font-size="14" textLength="33.03" lengthAdjust="spacingAndGlyphs" transform="rotate(-90 716 437.57)">(cm)</text>
<text x="55.52" y="61" font-size="14" textLength="20.62" lengthAdjust="spacingAndGlyphs">0.3</text>
<text x="684.52" y="61" font-size="14" textLength="20.62" lengthAdjust="spacingAndGlyphs">0.3</text>
<text x="55.52" y="101" font-size="14" textLength="20.62" lengthAdjust="spacingAndGlyphs">0.2</text>
<text x="684.52" y="101" font-size="14" textLength="20.62" lengthAdjust="spacingAndGlyphs">0.2</text>
<text x="55.52" y="141" font-size="14" textLength="18.57" lengthAdjust="spacingAndGlyphs">0.1</text>
<text x="684.52" y="141" font-size="14" textLength="18.57" lengthAdjust="spacingAndGlyphs">0.1</text>
<text x="55.52" y="181" font-size="14" textLength="20.57" lengthAdjust="spacingAndGlyphs">0.0</text>
<text x="684.52" y="181" font-size="14" textLength="20.57" lengthAdjust="spacingAndGlyphs">0.0</text>
<text x="44.52" y="221" font-size="14" textLength="29.84" lengthAdjust="spacingAndGlyphs">−0.1</text>
<text x="684.52" y="221" font-size="14" textLength="29.84" lengthAdjust="spacingAndGlyphs">−0.1</text>
<text x="60.53" y="335" font-size="14" textLength="15.42" lengthAdjust="spacingAndGlyphs">10</text>
<text x="685.53" y="335" font-size="14" textLength="15.42" lengthAdjust="spacingAndGlyphs">10</text>
<text x="67.50" y="378" font-size="14" textLength="9.24" lengthAdjust="spacingAndGlyphs">8</text>
<text x="684.50" y="378" font-size="14" textLength="8.21" lengthAdjust="spacingAndGlyphs">8</text>
<text x="67.50" y="421" font-size="14" textLength="9.24" lengthAdjust="spacingAndGlyphs">6</text>
<text x="684.50" y="421" font-size="14" textLength="8.21" lengthAdjust="spacingAndGlyphs">6</text>
<text x="67.50" y="464" font-size="14" textLength="9.24" lengthAdjust="spacingAndGlyphs">4</text>
<text x="684.50" y="464" font-size="14" textLength="8.21" lengthAdjust="spacingAndGlyphs">4</text>
<text x="67.50" y="507" font-size="14" textLength="9.24" lengthAdjust="spacingAndGlyphs">2</text>
<text x="684.50" y="507" font-size="14" textLength="8.21" lengthAdjust="spacingAndGlyphs">2</text>
<text x="67.50" y="551" font-size="14" textLength="9.24" lengthAdjust="spacingAndGlyphs">0</text>
<text x="684.50" y="551" font-size="14" textLength="8.21" lengthAdjust="spacingAndGlyphs">0</text>
</svg></body></html>
